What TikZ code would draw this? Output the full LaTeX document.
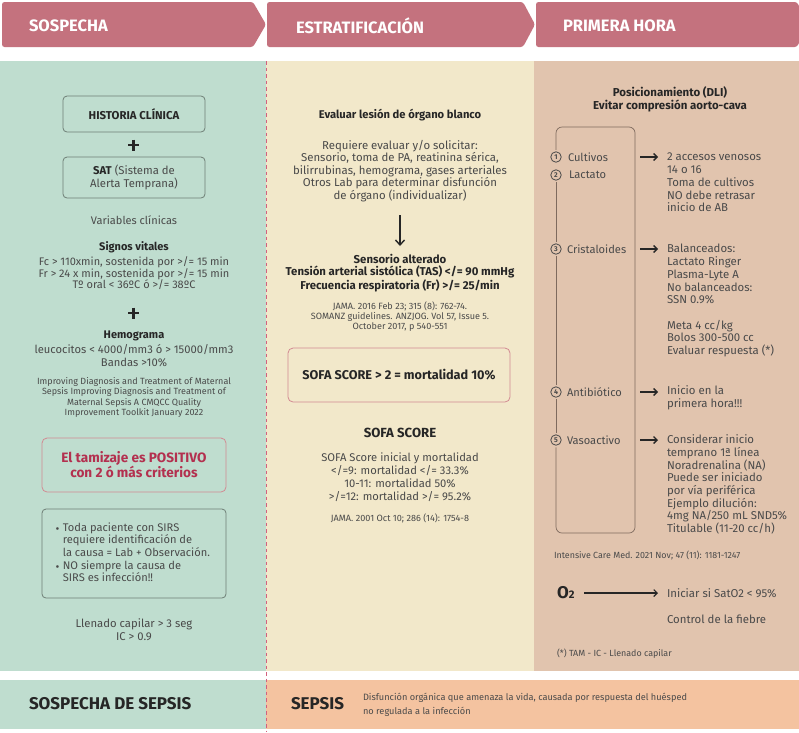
\documentclass[tikz,border=0pt]{standalone}
\usepackage{fontspec}
\setmainfont{Fira Sans}
\usetikzlibrary{arrows.meta}
\definecolor{hdr}{HTML}{C4727E}
\definecolor{colG}{HTML}{BFDDCF}
\definecolor{colC}{HTML}{F2E8CA}
\definecolor{colT}{HTML}{E1C4AE}
\definecolor{colO}{HTML}{F4C3A0}
\definecolor{dashc}{HTML}{D4607E}
\definecolor{txt}{HTML}{4A4A4A}
\definecolor{dark}{HTML}{262626}
\definecolor{redt}{HTML}{B3304F}
\definecolor{boxg}{HTML}{6F7F76}
\definecolor{sofab}{HTML}{D28A92}
\definecolor{brk}{HTML}{7E6A5E}
\tikzset{
  every node/.style={inner sep=0pt, outer sep=0pt},
  hdrtxt/.style={font=\fontsize{16.5}{17}\bfseries\selectfont, text=white, anchor=west},
  body/.style={font=\fontsize{11}{12.5}\selectfont, text=txt, align=center},
  bodyb/.style={font=\fontsize{11}{12.2}\bfseries\selectfont, text=dark, align=center},
  refs/.style={font=\fontsize{9}{10.3}\selectfont, text=txt, align=center},
  greybox/.style={draw=boxg, line width=0.8pt, rounded corners=4pt},
  num/.style={circle, draw=txt, line width=0.8pt, minimum size=10.5pt, outer sep=2pt, font=\fontsize{7}{7}\bfseries\selectfont, text=txt},
  itm/.style={font=\fontsize{11.1}{12.7}\selectfont, text=txt, anchor=west},
  rtxt/.style={font=\fontsize{11.4}{12.75}\selectfont, text=txt, align=left, anchor=west},
  arr/.style={-{Straight Barb[length=3.5pt,width=7pt]}, line width=1.3pt, dark},
  footb/.style={font=\fontsize{17}{17}\bfseries\selectfont, text=dark, anchor=west},
}
\begin{document}
\begin{tikzpicture}[x=1pt,y=-1pt]
\useasboundingbox (0,0) rectangle (799,732);
\fill[white] (0,0) rectangle (799,732);
% header chevrons
\fill[hdr, rounded corners=2.5pt] (2,2) -- (253,2) -- (266,24.5) -- (253,47) -- (2,47) -- cycle;
\fill[hdr, rounded corners=2.5pt] (267,2) -- (523,2) -- (535,24.5) -- (523,47) -- (267,47) -- cycle;
\fill[hdr, rounded corners=2.5pt] (536,2) -- (797,2) -- (808,24.5) -- (797,47) -- (536,47) -- cycle;
\node[hdrtxt] (h1) at (29,26) {SOSPECHA};
\node[hdrtxt] (h2) at (296,26) {ESTRATIFICACIÓN};
\node[hdrtxt] (h3) at (563,26) {PRIMERA HORA};
% column backgrounds
\fill[colG] (0,61) rectangle (266,671);
\fill[colC] (266,61) rectangle (534,671);
\fill[colT] (534,61) rectangle (799,671);
% footer
\fill[colG] (0,680) rectangle (266,729);
\fill[colO] (266,680) rectangle (799,729);
\draw[dashc, line width=1.6pt, dash pattern=on 3.5pt off 3pt] (266.5,61) -- (266.5,732);

% ---------- column 1 ----------
\node[greybox, minimum width=142pt, minimum height=36pt, font=\fontsize{11.4}{12}\bfseries\selectfont, text=dark] (hc) at (134,114) {HISTORIA CLÍNICA};
\draw[dark, line width=2.8pt] (128,145) -- (138.5,145) (133.2,139.5) -- (133.2,150.5);
\node[greybox, minimum width=142pt, minimum height=41pt, align=center, font=\fontsize{11.3}{12.9}\selectfont, text=txt] (sat) at (134,177.5) {{\bfseries\color{dark}SAT} (Sistema de\\Alerta Temprana)};
\node[body] (vc) at (134,220) {Variables clínicas};
\node[bodyb] (sv) at (134,247.5) {Signos vitales};
\node[body, font=\fontsize{11}{11.6}\selectfont] (svl) at (134,273.5) {Fc > 110xmin, sostenida por >/= 15 min\\Fr > 24 x min, sostenida por >/= 15 min\\Tº oral < 36ºC ó >/= 38ºC};
\draw[dark, line width=2.8pt] (128,313) -- (138.5,313) (133.2,307.5) -- (133.2,318.5);
\node[bodyb] (hm) at (134,336) {Hemograma};
\node[body, font=\fontsize{11.2}{13}\selectfont] (hml) at (134,355.5) {leucocitos < 4000/mm3 ó > 15000/mm3\\Bandas >10\%};
\node[refs] (ref1) at (134,397.5) {Improving Diagnosis and Treatment of Maternal\\Sepsis Improving Diagnosis and Treatment of\\Maternal Sepsis A CMQCC Quality\\Improvement Toolkit January 2022};
\node[draw=sofab, line width=0.8pt, rounded corners=5pt, minimum width=184pt, minimum height=54pt, align=center, font=\fontsize{13.6}{15}\bfseries\selectfont, text=redt] (pos) at (134,465) {El tamizaje es POSITIVO\\con 2 ó más criterios};
\node[greybox, minimum width=184pt, minimum height=89pt] (blt) at (134,553.5) {};
\node[anchor=west, font=\fontsize{11.1}{12.5}\selectfont, text=txt] (bltx) at (55.5,554)
  {\begin{tabular}{@{}l@{\hspace{3.5pt}}l@{}}
   \raisebox{1pt}{\fontsize{6}{6}\selectfont$\bullet$} & Toda paciente con SIRS\\
   & requiere identificación de\\
   & la causa = Lab + Observación.\\
   \raisebox{1pt}{\fontsize{6}{6}\selectfont$\bullet$} & NO siempre la causa de\\
   & SIRS es infección!!
  \end{tabular}};
\node[body, font=\fontsize{11.3}{12.8}\selectfont] (llc) at (134,629.5) {Llenado capilar > 3 seg\\IC > 0.9};

% ---------- column 2 ----------
\node[bodyb, font=\fontsize{11.2}{12}\bfseries\selectfont] (ev) at (400,115) {Evaluar lesión de órgano blanco};
\node[body, font=\fontsize{11.4}{12.5}\selectfont] (req) at (400,171) {Requiere evaluar y/o solicitar:\\Sensorio, toma de PA, reatinina sérica,\\bilirrubinas, hemograma, gases arteriales\\Otros Lab para determinar disfunción\\de órgano (individualizar)};
\coordinate (da1) at (400,215);
\coordinate (da2) at (400,246);
\draw[-{Straight Barb[length=5pt,width=9pt]}, line width=1.4pt, dark] (da1) -- (da2);
\node[bodyb, font=\fontsize{11.4}{12.2}\bfseries\selectfont] (sens) at (400,273) {Sensorio alterado\\Tensión arterial sistólica (TAS) </= 90 mmHg\\Frecuencia respiratoria (Fr) >/= 25/min};
\node[refs, font=\fontsize{9.1}{10}\selectfont] (ref2) at (400,317) {JAMA. 2016 Feb 23; 315 (8): 762-74.\\SOMANZ guidelines. ANZJOG. Vol 57, Issue 5.\\October 2017, p 540-551};
\node[draw=sofab, line width=0.8pt, rounded corners=5pt, minimum width=222pt, minimum height=54pt, font=\fontsize{12.7}{13}\bfseries\selectfont, text=dark] (sofa) at (399,375) {SOFA SCORE > 2 = mortalidad 10\%};
\node[bodyb, font=\fontsize{13.2}{13}\bfseries\selectfont] (sofh) at (400,433) {SOFA SCORE};
\node[body, font=\fontsize{11.2}{13}\selectfont] (sofl) at (400,477.5) {SOFA Score inicial y mortalidad\\</=9: mortalidad </= 33.3\%\\10-11: mortalidad 50\%\\>/=12: mortalidad >/= 95.2\%};
\node[refs, font=\fontsize{9.1}{10}\selectfont] (ref3) at (400,518) {JAMA. 2001 Oct 10; 286 (14): 1754-8};

% ---------- column 3 ----------
\node[bodyb, font=\fontsize{11.5}{13}\bfseries\selectfont] (pos3) at (670,99.5) {Posicionamiento (DLI)\\Evitar compresión aorto-cava};
\coordinate (brTL) at (556,127);
\coordinate (brTR) at (635,127);
\coordinate (brBR) at (635,533);
\coordinate (brBL) at (556,533);
\node[num] (c1) at (556,157) {1};
\node[num] (c2) at (556,175) {2};
\node[num] (c3) at (556,249) {3};
\node[num] (c4) at (556,392) {4};
\node[num] (c5) at (556,440) {5};
\draw[brk, line width=0.7pt, rounded corners=6pt] (c1.north) -- (brTL) -- (brTR) -- (brBR) -- (brBL) -- (c5.south);
\draw[brk, line width=0.7pt] (c2.south) -- (c3.north) (c3.south) -- (c4.north) (c4.south) -- (c5.north);
\node[itm] (l1) at (568,157) {Cultivos};
\node[itm] (l2) at (569,175) {Lactato};
\node[itm] (l3) at (567,249) {Cristaloides};
\node[itm] (l4) at (567,392) {Antibiótico};
\node[itm] (l5) at (567,440) {Vasoactivo};
\node[rtxt] (r1) at (667,182.5) {2 accesos venosos\\14 o 16\\Toma de cultivos\\NO debe retrasar\\inicio de AB};
\node[rtxt, font=\fontsize{11.4}{12.9}\selectfont] (r3) at (667,300.5) {Balanceados:\\Lactato Ringer\\Plasma-Lyte A\\No balanceados:\\SSN 0.9\%\\[12.2pt]Meta 4 cc/kg\\Bolos 300-500 cc\\Evaluar respuesta (*)};
\node[rtxt] (r4) at (667,398) {Inicio en la\\primera hora!!!};
\node[rtxt, font=\fontsize{11.4}{12.7}\selectfont] (r5) at (667,484.5) {Considerar inicio\\temprano 1ª línea\\Noradrenalina (NA)\\Puede ser iniciado\\por vía periférica\\Ejemplo dilución:\\4mg NA/250 mL SND5\%\\Titulable (11-20 cc/h)};
\coordinate (a1s) at (640,157); \coordinate (a1e) at (658,157);
\coordinate (a3s) at (640,249); \coordinate (a3e) at (658,249);
\coordinate (a4s) at (640,392); \coordinate (a4e) at (658,392);
\coordinate (a5s) at (640,440); \coordinate (a5e) at (658,440);
\draw[arr] (a1s) -- (a1e);
\draw[arr] (a3s) -- (a3e);
\draw[arr] (a4s) -- (a4e);
\draw[arr] (a5s) -- (a5e);
\node[refs, anchor=west, font=\fontsize{8.9}{9}\selectfont] (ref4) at (554,555) {Intensive Care Med. 2021 Nov; 47 (11): 1181-1247};
\node[anchor=west, text=dark] (o2) at (557,593) {{\fontsize{17}{17}\bfseries\selectfont O}{\fontsize{11}{10}\bfseries\selectfont 2}};
\node[rtxt] (sat2) at (667,593) {Iniciar si SatO2 < 95\%};
\draw[-{Straight Barb[length=3.5pt,width=7pt]}, line width=1.1pt, dark] (o2.east) ++(10pt,0) -- ([xshift=-9pt]sat2.west);
\node[rtxt] (fieb) at (667,619) {Control de la fiebre};
\node[refs, anchor=west, font=\fontsize{8.9}{9}\selectfont] (ref5) at (557,654) {(*) TAM - IC - Llenado capilar};

% ---------- footer ----------
\node[footb] (f1) at (29,704) {SOSPECHA DE SEPSIS};
\node[footb] (f2) at (291,704) {SEPSIS};
\node[anchor=west, align=left, font=\fontsize{9.2}{13.5}\selectfont, text=txt] (f3) at (363,705) {Disfunción orgánica que amenaza la vida, causada por respuesta del huésped\\no regulada a la infección};
\end{tikzpicture}
\end{document}
